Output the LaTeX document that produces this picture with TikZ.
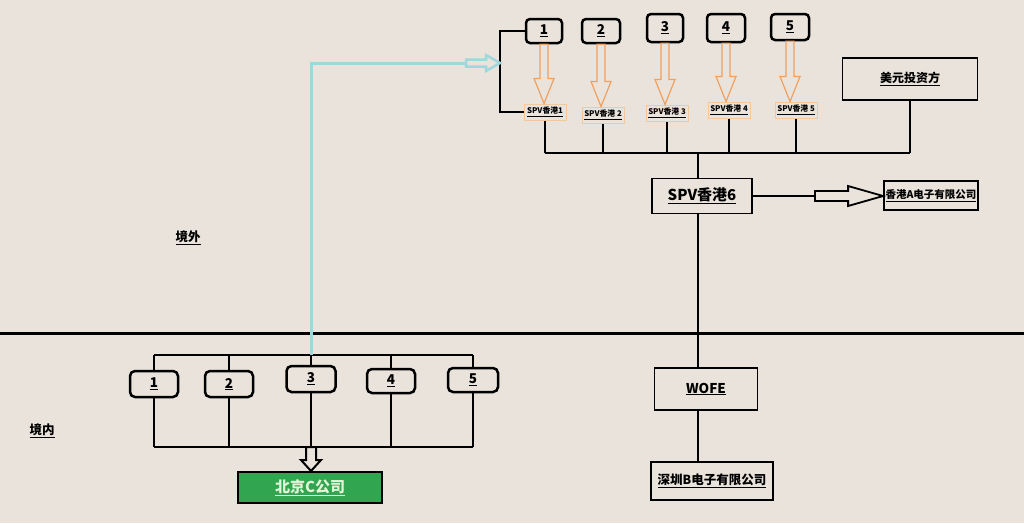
\documentclass[tikz,border=0pt]{standalone}
\usepackage{fontspec}
\setmainfont{Noto Sans CJK SC}
\usetikzlibrary{calc}
\definecolor{bgc}{RGB}{234,227,219}
\definecolor{orangeA}{RGB}{240,160,95}
\definecolor{orangeB}{RGB}{245,200,155}
\definecolor{cyanA}{RGB}{160,215,220}
\definecolor{greenA}{RGB}{50,165,80}
\definecolor{txtgreen}{RGB}{225,245,215}
\newcommand{\ul}[1]{\underline{#1}}
\newcommand{\hollowdown}[6]{%
 \draw[#1] let \p1=(#2), \p2=(#3) in ({\x1-#4},\y1) -- ({\x1-#4},{\y2+#6}) -- ({\x1-#5},{\y2+#6}) -- (\x1,\y2) -- ({\x1+#5},{\y2+#6}) -- ({\x1+#4},{\y2+#6}) -- ({\x1+#4},\y1) -- cycle;}
\newcommand{\hollowright}[6]{%
 \draw[#1] let \p1=(#2), \p2=(#3) in (\x1,{\y1+#4}) -- ({\x2-#6},{\y1+#4}) -- ({\x2-#6},{\y1+#5}) -- (\x2,\y1) -- ({\x2-#6},{\y1-#5}) -- ({\x2-#6},{\y1-#4}) -- (\x1,{\y1-#4}) -- cycle;}
\tikzset{
 numbox/.style={draw, line width=2.5pt, rounded corners=4pt, inner sep=0pt, font=\bfseries\fontsize{13.5}{14}\selectfont},
 spvbox/.style={draw=orangeB, line width=1pt, inner sep=0pt, minimum width=42pt, minimum height=16pt, font=\bfseries\fontsize{7.8}{8}\selectfont},
 plainbox/.style={draw, line width=1.8pt, inner sep=0pt, font=\bfseries\fontsize{12}{13}\selectfont},
 conn/.style={line width=1.8pt},
 lbl/.style={inner sep=0pt, font=\bfseries\fontsize{12.5}{13}\selectfont},
}
\begin{document}
\begin{tikzpicture}[x=1pt,y=-1pt]
\fill[bgc] (0,0) rectangle (1024,523);
\useasboundingbox (0,0) rectangle (1024,523);
% divider
\coordinate (dL) at (0,333);
\coordinate (dR) at (1024,333);
\draw[line width=3pt] (dL) -- (dR);
\node[lbl] (jw) at (188,238) {\ul{境外}};
\node[lbl] (jn) at (42,431) {\ul{境内}};
% top number boxes
\node[numbox, minimum width=36pt, minimum height=24pt] (t1) at (544,31) {\ul{1}};
\node[numbox, minimum width=38pt, minimum height=24pt] (t2) at (601,31) {\ul{2}};
\node[numbox, minimum width=36pt, minimum height=28pt] (t3) at (665,28) {\ul{3}};
\node[numbox, minimum width=38pt, minimum height=28pt] (t4) at (726,28) {\ul{4}};
\node[numbox, minimum width=38pt, minimum height=26pt] (t5) at (790,27) {\ul{5}};
% SPV boxes
\node[spvbox] (s1) at (545,112) {\ul{SPV香港1}};
\node[spvbox] (s2) at (603,115) {\ul{SPV香港 2}};
\node[spvbox] (s3) at (667,113) {\ul{SPV香港 3}};
\node[spvbox] (s4) at (729,110) {\ul{SPV香港 4}};
\node[spvbox] (s5) at (796,110) {\ul{SPV香港 5}};
% orange hollow arrows
\foreach \i in {1,...,5}{
 \hollowdown{orangeA, line width=1.2pt}{t\i.south}{s\i.north}{4pt}{10pt}{25pt}
}
% left connector
\coordinate (jl) at (500,63);
\draw[conn] (t1.west) -| (jl) |- (s1.west);
% investor and bus
\node[plainbox, minimum width=135pt, minimum height=42pt] (usd) at (910,79) {\ul{美元投资方}};
\coordinate (bus) at (0,153);
\draw[conn] (s1.south |- bus) -- (usd.south |- bus);
\foreach \i in {1,...,5}{ \draw[conn] (s\i.south) -- (s\i.south |- bus); }
\draw[conn] (usd.south) -- (usd.south |- bus);
% SPV6
\node[plainbox, minimum width=100pt, minimum height=35pt, font=\bfseries\fontsize{15}{16}\selectfont] (spv6) at (702,196) {\ul{SPV香港6}};
\coordinate (stem) at (698,0);
\draw[conn] (stem |- bus) -- (stem |- spv6.north);
% HK A
\node[plainbox, minimum width=94pt, minimum height=29pt, font=\bfseries\fontsize{10.5}{11}\selectfont] (hka) at (931,195.5) {\ul{香港A电子有限公司}};
\coordinate (ha) at (815,196);
\draw[conn] (spv6.east |- ha) -- (ha);
\hollowright{black, line width=1.8pt}{ha}{hka.west |- ha}{5pt}{10pt}{35pt}
% WOFE and Shenzhen
\node[plainbox, minimum width=103pt, minimum height=42pt, font=\bfseries\fontsize{13.5}{14}\selectfont] (wofe) at (706,389) {\ul{WOFE}};
\node[plainbox, minimum width=122pt, minimum height=38pt, font=\bfseries\fontsize{12.5}{13}\selectfont] (szb) at (712,481) {\ul{深圳B电子有限公司}};
\draw[conn] (stem |- spv6.south) -- (stem |- wofe.north);
\draw[conn] (stem |- wofe.south) -- (stem |- szb.north);
% lower boxes
\node[numbox, rounded corners=5pt, minimum width=48pt, minimum height=26pt] (b1) at (154,384) {\ul{1}};
\node[numbox, rounded corners=5pt, minimum width=48pt, minimum height=26pt] (b2) at (229,384) {\ul{2}};
\node[numbox, rounded corners=5pt, minimum width=49pt, minimum height=26pt] (b3) at (311,379) {\ul{3}};
\node[numbox, rounded corners=5pt, minimum width=48pt, minimum height=24pt] (b4) at (391,381) {\ul{4}};
\node[numbox, rounded corners=5pt, minimum width=50pt, minimum height=24pt] (b5) at (473,380) {\ul{5}};
\coordinate (lbus) at (0,355);
\coordinate (bbus) at (0,447);
\draw[line width=2.5pt] (b1.north |- lbus) -- (b5.north |- lbus);
\draw[line width=2.5pt] (b1.south |- bbus) -- (b5.south |- bbus);
\foreach \i in {1,...,5}{
 \draw[line width=2.5pt] (b\i.north) -- (b\i.north |- lbus);
 \draw[line width=2.5pt] (b\i.south) -- (b\i.south |- bbus);
}
% Beijing C
\node[draw, line width=2pt, fill=greenA, inner sep=0pt, minimum width=144pt, minimum height=31pt, text=txtgreen, font=\bfseries\fontsize{15}{16}\selectfont] (bjc) at (310,487.5) {\ul{北京C公司}};
\hollowdown{black, line width=2pt}{b3.south |- bbus}{b3.south |- bjc.north}{5pt}{10pt}{11pt}
% cyan connector
\coordinate (ca) at (466,63);
\draw[cyanA, line width=3pt] (b3.north |- lbus) -- (b3.north |- ca) -- (ca);
\hollowright{cyanA, line width=2.5pt}{ca}{jl}{3.5pt}{8pt}{14pt}
\end{tikzpicture}
\end{document}
